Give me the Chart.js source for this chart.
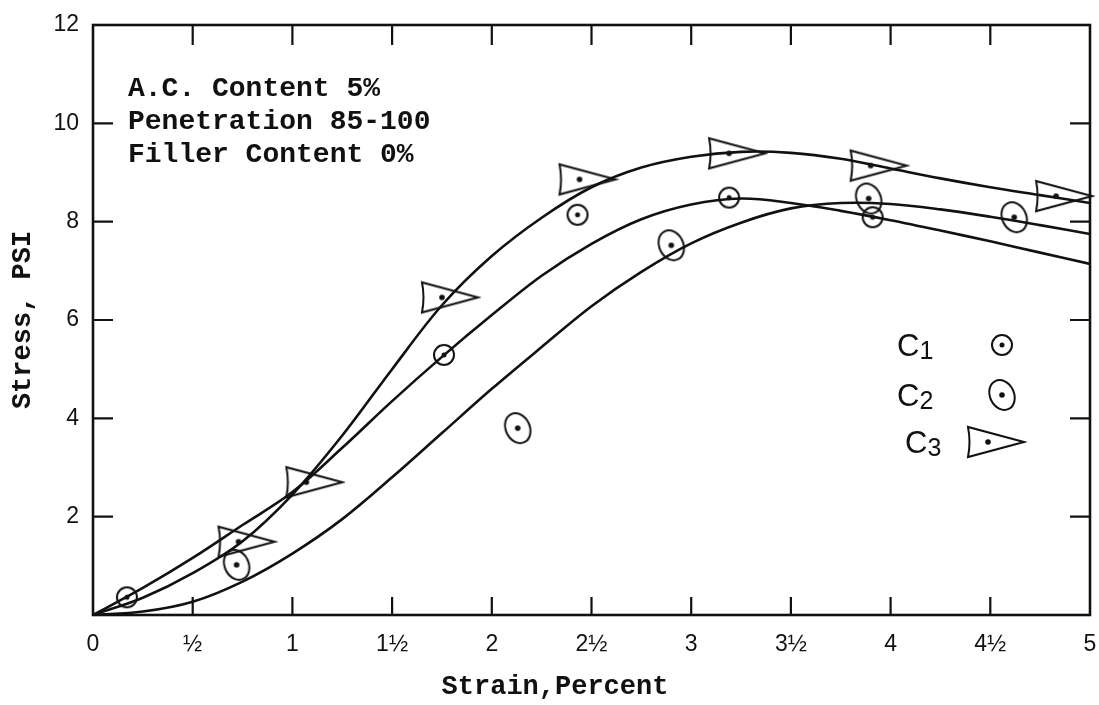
<!DOCTYPE html>
<html>
<head>
<meta charset="utf-8">
<script src="https://cdn.jsdelivr.net/npm/chart.js@4.4.0/dist/chart.umd.min.js"></script>
<style>
  html, body { margin: 0; padding: 0; background: #fff; }
  #wrap { width: 1099px; height: 705px; }
</style>
</head>
<body>
<div id="wrap"><canvas id="stressChart" width="1099" height="705"></canvas></div>
<script>
// axis ticks
const strainTicks = [0, 0.5, 1, 1.5, 2, 2.5, 3, 3.5, 4, 4.5, 5];
const strainLabels = ['0', '½', '1', '1½', '2', '2½', '3', '3½', '4', '4½', '5'];
const stressTicks = [0, 2, 4, 6, 8, 10, 12];

// plotted test points (strain %, stress psi)
const c1Strain = [0.17, 1.76, 2.43, 3.19, 3.91];
const c1Stress = [0.36, 5.29, 8.14, 8.49, 8.09];
const c2Strain = [0.72, 2.13, 2.90, 3.89, 4.62];
const c2Stress = [1.02, 3.80, 7.52, 8.47, 8.09];
const c3Strain = [0.73, 1.07, 1.75, 2.44, 3.19, 3.90, 4.83];
const c3Stress = [1.49, 2.70, 6.46, 8.86, 9.39, 9.14, 8.52];

// faired curves
const curveStrain = [0, 0.25, 0.5, 0.75, 1, 1.25, 1.5, 1.75, 2, 2.25, 2.5, 2.75, 3, 3.25, 3.5, 3.75, 4, 4.25, 4.5, 4.75, 5];
const c1Curve = [0, 0.55, 1.16, 1.83, 2.5, 3.4, 4.35, 5.25, 6.1, 6.9, 7.55, 8.05, 8.35, 8.47, 8.38, 8.22, 8.03, 7.82, 7.6, 7.37, 7.14];
const c2Curve = [0, 0.07, 0.27, 0.68, 1.25, 1.95, 2.8, 3.7, 4.6, 5.45, 6.28, 6.98, 7.56, 7.98, 8.27, 8.38, 8.36, 8.25, 8.1, 7.93, 7.75];
const c3Curve = [0, 0.35, 0.85, 1.5, 2.45, 3.65, 5.0, 6.3, 7.3, 8.08, 8.7, 9.1, 9.32, 9.42, 9.4, 9.28, 9.08, 8.88, 8.7, 8.54, 8.38];

const notes = ['A.C. Content 5%', 'Penetration 85-100', 'Filler Content 0%'];
const legendNames = ['1', '2', '3'];
const xTitle = 'Strain,Percent';

const ink = '#111';

function pts(xs, ys) {
    return xs.map((x, i) => ({ x: x, y: ys[i] }));
}

// marker pictures
function circleMark() {
    const c = document.createElement('canvas');
    c.width = 26; c.height = 26;
    const g = c.getContext('2d');
    g.strokeStyle = ink; g.lineWidth = 2;
    g.beginPath(); g.arc(13, 13, 10, 0, Math.PI * 2); g.stroke();
    g.fillStyle = ink;
    g.beginPath(); g.arc(13, 13, 2.5, 0, Math.PI * 2); g.fill();
    return c;
}
function ellipseMark() {
    const c = document.createElement('canvas');
    c.width = 38; c.height = 38;
    const g = c.getContext('2d');
    g.strokeStyle = ink; g.lineWidth = 2;
    g.beginPath(); g.ellipse(19, 19, 12, 15.5, -0.45, 0, Math.PI * 2); g.stroke();
    g.fillStyle = ink;
    g.beginPath(); g.arc(19, 19, 2.8, 0, Math.PI * 2); g.fill();
    return c;
}
function triangleMark() {
    const c = document.createElement('canvas');
    c.width = 78; c.height = 38;
    const g = c.getContext('2d');
    g.strokeStyle = ink; g.lineWidth = 2; g.lineJoin = 'miter';
    g.beginPath();
    g.moveTo(19, 4);
    g.quadraticCurveTo(22, 19, 19, 34);
    g.lineTo(75, 19);
    g.closePath();
    g.stroke();
    g.fillStyle = ink;
    g.beginPath(); g.arc(39, 19, 2.8, 0, Math.PI * 2); g.fill();
    return c;
}

const marks = [circleMark(), ellipseMark(), triangleMark()];

function curveSet(ys) {
    return {
        data: pts(curveStrain, ys),
        showLine: true,
        borderColor: ink,
        borderWidth: 2.6,
        pointRadius: 0,
        tension: 0.35,
        fill: false
    };
}
function pointSet(xs, ys, mark) {
    return {
        data: pts(xs, ys),
        showLine: false,
        pointStyle: mark,
        pointRadius: 8,
        clip: false
    };
}

const framePlugin = {
    id: 'frame',
    afterDraw(chart) {
        const g = chart.ctx;
        const a = chart.chartArea;
        const xs = chart.scales.x, ys = chart.scales.y;
        g.save();
        g.strokeStyle = ink;
        g.lineWidth = 2.6;
        g.strokeRect(a.left, a.top, a.right - a.left, a.bottom - a.top);
        g.lineWidth = 2.2;
        g.beginPath();
        strainTicks.forEach(v => {
            if (v === 0 || v === 5) return;
            const px = xs.getPixelForValue(v);
            g.moveTo(px, a.bottom); g.lineTo(px, a.bottom - 18);
            g.moveTo(px, a.top); g.lineTo(px, a.top + 20);
        });
        stressTicks.forEach(v => {
            if (v === 0 || v === 12) return;
            const py = ys.getPixelForValue(v);
            g.moveTo(a.left, py); g.lineTo(a.left + 20, py);
            g.moveTo(a.right, py); g.lineTo(a.right - 20, py);
        });
        g.stroke();

        g.fillStyle = ink;
        // x title sits left of the plot centre in the original
        g.font = 'bold 27px "Liberation Mono"';
        g.textAlign = 'center';
        g.textBaseline = 'middle';
        g.fillText(xTitle, 555, 687);

        // notes, top left
        g.textAlign = 'left';
        g.textBaseline = 'alphabetic';
        g.font = 'bold 28px "Liberation Mono"';
        notes.forEach((t, i) => g.fillText(t, 128, 96 + i * 33));

        // key, right side
        const keyY = [345, 395, 442];
        const keyX = [897, 897, 905];
        legendNames.forEach((t, i) => {
            g.font = '31px "Liberation Sans"';
            g.fillText('C', keyX[i], keyY[i] + 11);
            const w = g.measureText('C').width;
            g.font = '25px "Liberation Sans"';
            g.fillText(t, keyX[i] + w, keyY[i] + 14);
            const m = marks[i];
            const cx = i === 2 ? 988 : 1002;
            g.drawImage(m, cx - m.width / 2, keyY[i] - m.height / 2);
        });
        g.restore();
    }
};

const tickFont = { family: '"Liberation Sans"', size: 23 };
const titleFont = { family: '"Liberation Mono"', size: 27, weight: 'bold' };

new Chart(document.getElementById('stressChart'), {
    type: 'scatter',
    data: {
        datasets: [
            curveSet(c1Curve),
            curveSet(c2Curve),
            curveSet(c3Curve),
            pointSet(c1Strain, c1Stress, marks[0]),
            pointSet(c2Strain, c2Stress, marks[1]),
            pointSet(c3Strain, c3Stress, marks[2])
        ]
    },
    options: {
        responsive: false,
        animation: false,
        layout: { padding: { top: 25, right: 8, left: 0, bottom: 0 } },
        plugins: {
            legend: { display: false },
            tooltip: { enabled: false }
        },
        scales: {
            x: {
                type: 'linear',
                min: 0,
                max: 5,
                afterBuildTicks: s => { s.ticks = strainTicks.map(v => ({ value: v })); },
                afterFit: s => { s.height = 90; s.paddingLeft = 0; s.paddingRight = 0; },
                grid: { display: false, drawTicks: false },
                border: { display: false },
                ticks: {
                    autoSkip: false,
                    maxRotation: 0,
                    padding: 16,
                    color: ink,
                    font: tickFont,
                    callback: v => strainLabels[strainTicks.indexOf(v)]
                }
            },
            y: {
                min: 0,
                max: 12,
                afterBuildTicks: s => { s.ticks = stressTicks.map(v => ({ value: v })); },
                afterFit: s => { s.width = 93; s.paddingTop = 0; s.paddingBottom = 0; },
                grid: { display: false, drawTicks: false },
                border: { display: false },
                ticks: {
                    padding: 14,
                    color: ink,
                    font: tickFont,
                    callback: v => (v === 0 ? '' : String(v))
                },
                title: {
                    display: true,
                    text: 'Stress, PSI',
                    color: ink,
                    font: titleFont,
                    padding: { top: 7, bottom: 0 }
                }
            }
        }
    },
    plugins: [framePlugin]
});
</script>
</body>
</html>
